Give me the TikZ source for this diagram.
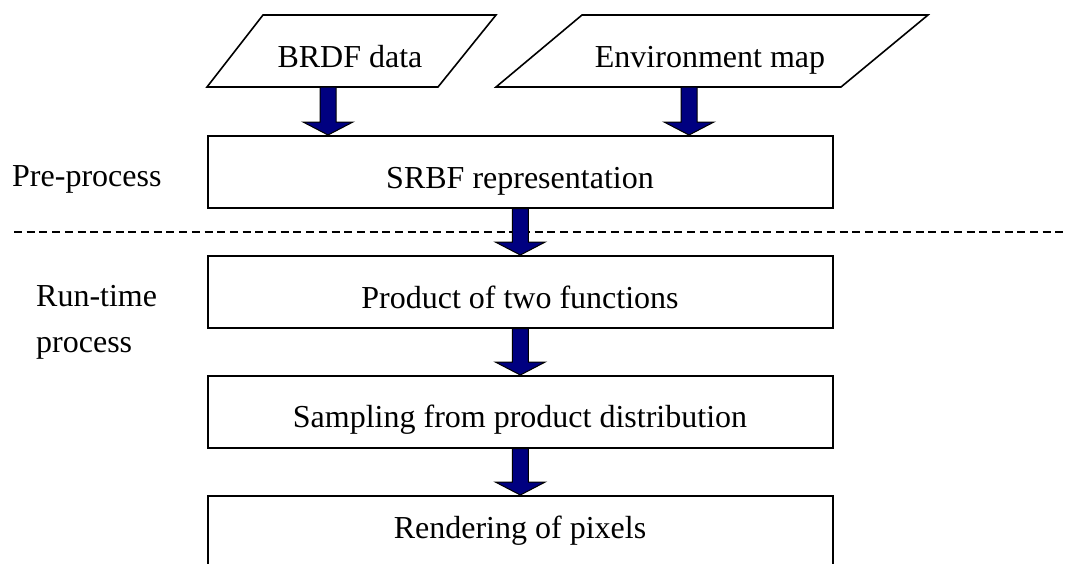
\documentclass[tikz,border=0pt]{standalone}
\usepackage{fontspec}
\setmainfont{Liberation Serif}
\definecolor{navyblue}{HTML}{000080}
\tikzset{
  box/.style={draw=black, line width=1.6pt, fill=white, minimum width=625pt, minimum height=72pt, inner sep=0pt, anchor=north west},
  txt/.style={inner sep=0pt, anchor=base, font=\fontsize{32}{38}\selectfont},
  lbl/.style={inner sep=0pt, anchor=base west, font=\fontsize{32}{38}\selectfont},
  para/.style={draw=black, line width=1.6pt, fill=white, line join=miter},
  barrowstyle/.style={draw=black, line width=1pt, fill=navyblue},
  dashline/.style={draw=black, line width=1.3pt, dash pattern=on 8pt off 4.7pt}
}
\usetikzlibrary{calc}
\newcommand{\blockarrow}[2]{%
  \path let \p1=(#1), \p2=(#2) in
    [barrowstyle] (\x1-8pt,\y1) -- (\x1+8pt,\y1) -- (\x1+8pt,\y2+13pt) -- (\x1+25pt,\y2+13pt)
    -- (\x1,\y2) -- (\x1-25pt,\y2+13pt) -- (\x1-8pt,\y2+13pt) -- cycle;}
\begin{document}
\begin{tikzpicture}[x=1pt,y=-1pt]
\clip (0,0) rectangle (1067,563);
\fill[white] (0,0) rectangle (1067,563);
% parallelograms
\draw[para] (263,15) -- (496,15) -- (438,87) -- (207,87) -- cycle;
\node[txt] (brdf) at (350,67) {BRDF data};
\draw[para] (582,15) -- (928,15) -- (841,87) -- (496,87) -- cycle;
\node[txt] (env) at (710,67) {Environment map};
\coordinate (brdfbot) at (328,87);
\coordinate (envbot) at (689,87);
% dashed line
\draw[dashline] (14,232) coordinate (dl) -- (1067,232) coordinate (dr);
% boxes
\node[box] (srbf) at (207,135) {};
\node[txt] (srbft) at (520,188) {SRBF representation};
\node[box] (prod) at (207,255) {};
\node[txt] (prodt) at (520,308) {Product of two functions};
\node[box] (samp) at (207,375) {};
\node[txt] (sampt) at (520,427) {Sampling from product distribution};
\node[box, minimum height=90pt] (rend) at (207,495) {};
\node[txt] (rendt) at (520,538) {Rendering of pixels};
% labels
\node[lbl] (pre) at (12,186) {Pre-process};
\node[lbl] (run) at (36,306) {Run-time};
\node[lbl] (proc) at (36,352) {process};
% arrows
\coordinate (srbfin1) at (328,135);
\coordinate (srbfin2) at (689,135);
\blockarrow{brdfbot}{srbfin1}
\blockarrow{envbot}{srbfin2}
\blockarrow{srbf.south}{prod.north}
\blockarrow{prod.south}{samp.north}
\blockarrow{samp.south}{rend.north}
\end{tikzpicture}
\end{document}
